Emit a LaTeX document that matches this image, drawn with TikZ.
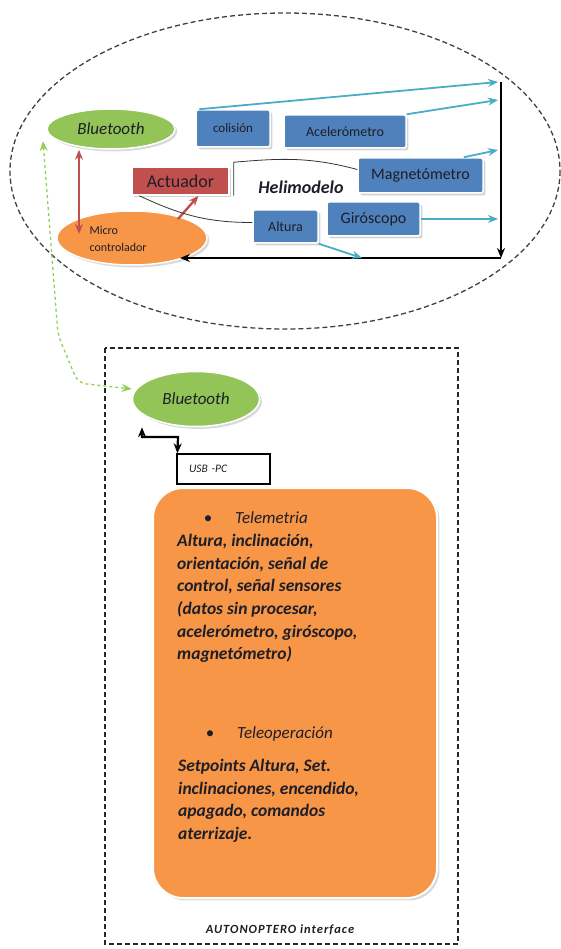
\documentclass[tikz,border=0pt]{standalone}
\usepackage{fontspec}
\setmainfont{Carlito}
\usetikzlibrary{shapes.geometric,shadows,arrows.meta}
\tikzset{>={Stealth[length=10pt,width=8pt]}}

\definecolor{hgreen}{RGB}{146,196,88}
\definecolor{horange}{RGB}{247,150,70}
\definecolor{hred}{RGB}{192,80,77}
\definecolor{hblue}{RGB}{79,129,189}
\definecolor{hcyan}{RGB}{75,172,198}
\definecolor{hlime}{RGB}{146,208,80}
\definecolor{htext}{RGB}{30,30,40}

\tikzset{
  sensor/.style={rectangle, rounded corners=2pt, fill=hblue, draw=white, line width=1.5pt,
    drop shadow={opacity=0.35}, text=htext, inner sep=0pt},
  btooth/.style={ellipse, fill=hgreen, draw=white, line width=1.5pt, drop shadow={opacity=0.3},
    inner sep=0pt, font=\fontsize{17}{20}\selectfont\itshape, text=htext},
  feed/.style={->, hcyan, line width=1.8pt},
  link/.style={->, hred, line width=2.4pt},
  frame/.style={->, black, line width=2.4pt},
  dashline/.style={dash pattern=on 5pt off 3pt, line width=1.3pt},
}

\begin{document}
\begin{tikzpicture}[x=1pt,y=-1pt]
  \useasboundingbox (0,0) rectangle (561,949);
  % helimodelo
  \draw[dashline, black!75] (285,171) ellipse (275 and 158);
  \node[btooth, minimum width=128pt, minimum height=40pt] (bt1) at (111,129) {Bluetooth};
  \node[ellipse, fill=horange, draw=white, line width=1.5pt, drop shadow={opacity=0.3},
    minimum width=150pt, minimum height=54pt] (micro) at (132,238) {};
  \node[anchor=west, align=left, font=\fontsize{12}{17}\selectfont, text=htext] (microtxt) at (86,239) {Micro\\controlador};
  \node[rectangle, fill=hred, draw=white, line width=1.5pt, drop shadow={opacity=0.35},
    minimum width=97pt, minimum height=28pt, font=\fontsize{18}{20}\selectfont, text=htext] (act) at (180.5,181) {Actuador};
  \node[sensor, minimum width=74pt, minimum height=37pt, font=\fontsize{13}{15}\selectfont] (col) at (233,128.5) {colisión};
  \node[sensor, minimum width=122pt, minimum height=33pt, font=\fontsize{14}{16}\selectfont] (acel) at (345,131.5) {Acelerómetro};
  \node[sensor, minimum width=125pt, minimum height=35pt, font=\fontsize{16}{18}\selectfont] (mag) at (420.5,175.5) {Magnetómetro};
  \node[sensor, minimum width=65pt, minimum height=33pt, font=\fontsize{14}{16}\selectfont] (alt) at (285.5,226.5) {Altura};
  \node[sensor, minimum width=93pt, minimum height=34pt, font=\fontsize{16}{18}\selectfont] (giro) at (373.5,219) {Giróscopo};
  \node[font=\fontsize{18}{20}\selectfont\bfseries\itshape, text=htext] (heli) at (301,187) {Helimodelo};

  \coordinate (ctop) at (501,82);
  \coordinate (cbot) at (501,258);
  \coordinate (mtip) at (180,258);
  \draw[frame] (ctop) -- (cbot);
  \draw[frame] (cbot) -- (mtip);

  \coordinate (f1) at (498,82);
  \coordinate (f2) at (498,100);
  \coordinate (f3) at (498,150);
  \coordinate (f4) at (498,219);
  \coordinate (f5) at (362,258);
  \draw[feed] ([xshift=4pt]col.north west) -- (f1);
  \draw[feed] (acel.north east) -- (f2);
  \draw[feed] ([xshift=-20pt]mag.north east) -- (f3);
  \draw[feed] (giro.east) -- (f4);
  \draw[feed] (alt.south east) -- (f5);

  \coordinate (rtip) at (79,234);
  \coordinate (mout) at (178,219);
  \draw[link, <->] ([xshift=-32pt]bt1.south) -- (rtip);
  \draw[link] (mout) -- ([xshift=18pt]act.south);

  \draw[line width=0.8pt, black!80] ([xshift=4pt]act.south east) -- ([xshift=4pt,yshift=4pt]act.north east)
    to[out=5,in=165] ([yshift=6pt]mag.west);
  \draw[line width=0.8pt, black!80] ([xshift=8pt]act.south west) to[out=-25,in=180] ([yshift=4pt]alt.west);

  % interface
  \draw[dashline, black!85] (105,348) rectangle (458,944);
  \node[btooth, minimum width=127pt, minimum height=55pt] (bt2) at (196,399) {Bluetooth};

  \coordinate (gtop) at (43,141);
  \coordinate (gk1) at (58,335);
  \coordinate (gk2) at (78,383);
  \draw[<->, hlime, dashed, line width=1.3pt, rounded corners=8pt] (gtop) -- (gk1) -- (gk2) -- ([yshift=10pt]bt2.west);

  \node[rectangle, draw=black, line width=1.3pt, minimum height=30pt, text width=69pt, inner xsep=12pt,
    align=left, font=\fontsize{11.5}{13}\selectfont\itshape, text=htext] (usb) at (223.5,469) {USB -PC};
  \coordinate (uk1) at (142,437);
  \coordinate (uk2) at (178,437);
  \draw[<->, line width=2.2pt] ([xshift=-54pt]bt2.south) -- (uk1) -- (uk2) -- ([xshift=1pt]usb.north west);

  \node[rectangle, rounded corners=30pt, fill=horange, draw=white, line width=2pt, drop shadow={opacity=0.3},
    minimum width=284pt, minimum height=410pt] (panel) at (295,693) {};
  \node[anchor=base, font=\fontsize{17}{20}\selectfont, text=htext] (dot1) at (208,523) {\textbullet};
  \node[anchor=base west, inner sep=0pt, font=\fontsize{17}{20}\selectfont\itshape, text=htext] (telem) at (235,523) {Telemetria};
  \node[anchor=north west, inner sep=0pt, align=left, font=\fontsize{17.5}{22.7}\selectfont\bfseries\itshape, text=htext] (tdata) at (177,534)
    {Altura, inclinación,\\orientación, señal de\\control, señal sensores\\(datos sin procesar,\\acelerómetro, giróscopo,\\magnetómetro)};
  \node[anchor=base, font=\fontsize{17}{20}\selectfont, text=htext] (dot2) at (210,738) {\textbullet};
  \node[anchor=base west, inner sep=0pt, font=\fontsize{17}{20}\selectfont\itshape, text=htext] (teleop) at (237,738) {Teleoperación};
  \node[anchor=north west, inner sep=0pt, align=left, font=\fontsize{17.5}{22.7}\selectfont\bfseries\itshape, text=htext] (tset) at (178,759)
    {Setpoints Altura, Set.\\inclinaciones, encendido,\\apagado, comandos\\aterrizaje.};
  \node[font=\fontsize{12.5}{14}\selectfont\bfseries\itshape\addfontfeature{LetterSpace=8}, text=htext] (iface) at (280,930) {AUTONOPTERO interface};
\end{tikzpicture}
\end{document}
